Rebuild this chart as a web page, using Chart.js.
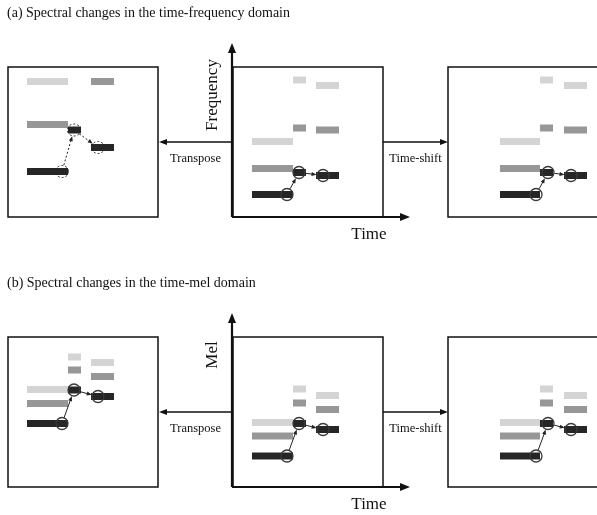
<!DOCTYPE html>
<html>
<head>
<meta charset="utf-8">
<script src="https://cdn.jsdelivr.net/npm/chart.js@4/dist/chart.umd.min.js"></script>
<style>
    html, body { margin: 0; padding: 0; background: #fff; }
    #wrap { width: 597px; height: 515px; position: relative; }
</style>
</head>
<body>
<div id="wrap"><canvas id="spectralChart"></canvas></div>
<script>
// note segments in panel-local time units (panel is 150 x 150 units)
const segStart = [19, 60, 83];
const segEnd = [60, 73, 106];
const segStartShifted = [52, 92, 116];
const segEndShifted = [92, 105, 139];

// centre of each harmonic per segment: [fundamental, 2nd, 3rd]
const freqOriginal = [[22.5, 48.5, 75.5], [44.5, 89, 137], [41.5, 87, 131.5]];
const freqTransposed = [[45.5, 92.5, 135.5], [87], [69.5, 135.5]];
const melOriginal = [[31, 51, 64.5], [63.5, 84, 98], [57.5, 77.5, 91.5]];
const melTransposed = [[63.5, 83.5, 97.5], [97, 117, 130], [90.5, 110.5, 124.5]];

// circled onsets / offsets on the fundamental
const markTime = [54, 66, 90];
const markTimeShifted = [88, 100, 123];

const titles = ['(a) Spectral changes in the time-frequency domain', '(b) Spectral changes in the time-mel domain'];
const yAxisLabels = ['Frequency', 'Mel'];
const xAxisLabel = 'Time';
const opLabels = ['Transpose', 'Time-shift'];

// layout
const W = 597, H = 515, panelSize = 150;
const colLeft = [8, 233, 448];
const rowBottom = [217, 487];
const harmonicColor = ['#262626', '#979797', '#d4d4d4'];
const serif = '"Liberation Serif", "DejaVu Serif", serif';

const panels = [
    { row: 0, col: 0, start: segStart, end: segEnd, freqs: freqTransposed, marks: markTime, dashed: true },
    { row: 0, col: 1, start: segStart, end: segEnd, freqs: freqOriginal, marks: markTime },
    { row: 0, col: 2, start: segStartShifted, end: segEndShifted, freqs: freqOriginal, marks: markTimeShifted },
    { row: 1, col: 0, start: segStart, end: segEnd, freqs: melTransposed, marks: markTime },
    { row: 1, col: 1, start: segStart, end: segEnd, freqs: melOriginal, marks: markTime },
    { row: 1, col: 2, start: segStartShifted, end: segEndShifted, freqs: melOriginal, marks: markTimeShifted },
];

const gx = (p, t) => colLeft[p.col] + t,
    gy = (p, f) => rowBottom[p.row] - f;

const datasets = [];

panels.forEach(p => {
    p.freqs.forEach((harmonics, s) => {
        harmonics.forEach((f, h) => {
            datasets.push({
                data: [{ x: gx(p, p.start[s]), y: gy(p, f) }, { x: gx(p, p.end[s]), y: gy(p, f) }],
                showLine: true,
                borderColor: harmonicColor[h],
                borderWidth: 7,
                borderCapStyle: 'butt',
                pointRadius: 0,
                order: 2
            });
        });
    });
    if (!p.dashed) {
        datasets.push({
            data: p.marks.map((t, i) => ({ x: gx(p, t), y: gy(p, p.freqs[i][0]) })),
            showLine: false,
            pointStyle: 'circle',
            pointRadius: 6,
            borderWidth: 1.3,
            borderColor: '#3a3a3a',
            backgroundColor: 'rgba(0,0,0,0)',
            order: 1
        });
    }
});

const arrow = (ctx, x0, y0, x1, y1, len, wid) => {
    const a = Math.atan2(y1 - y0, x1 - x0);
    ctx.beginPath();
    ctx.moveTo(x0, y0);
    ctx.lineTo(x1 - Math.cos(a) * len * 0.8, y1 - Math.sin(a) * len * 0.8);
    ctx.stroke();
    ctx.save();
    ctx.setLineDash([]);
    ctx.beginPath();
    ctx.moveTo(x1, y1);
    ctx.lineTo(x1 - Math.cos(a) * len - Math.sin(a) * wid / 2, y1 - Math.sin(a) * len + Math.cos(a) * wid / 2);
    ctx.lineTo(x1 - Math.cos(a) * len + Math.sin(a) * wid / 2, y1 - Math.sin(a) * len - Math.cos(a) * wid / 2);
    ctx.closePath();
    ctx.fill();
    ctx.restore();
};

const diagramPlugin = {
    id: 'diagram',
    afterDatasetsDraw(chart) {
        const ctx = chart.ctx,
            X = v => chart.scales.x.getPixelForValue(v),
            Y = v => chart.scales.y.getPixelForValue(v);
        ctx.save();
        ctx.strokeStyle = '#111';
        ctx.fillStyle = '#111';

        // panel frames
        ctx.lineWidth = 1.5;
        panels.forEach(p => {
            ctx.strokeRect(X(gx(p, 0)), Y(gy(p, panelSize)), X(gx(p, panelSize)) - X(gx(p, 0)), Y(gy(p, 0)) - Y(gy(p, panelSize)));
        });

        rowBottom.forEach((b, r) => {
            const mid = panels.find(p => p.row === r && p.col === 1);
            const left = panels.find(p => p.row === r && p.col === 0);
            const right = panels.find(p => p.row === r && p.col === 2);

            // axes of the middle panel
            ctx.lineWidth = 2.2;
            arrow(ctx, X(gx(mid, -1)), Y(gy(mid, 0)), X(gx(mid, -1)), Y(gy(mid, panelSize + 24)), 10, 8);
            arrow(ctx, X(gx(mid, -1)), Y(gy(mid, 0)), X(gx(mid, panelSize + 27)), Y(gy(mid, 0)), 10, 8);

            // transpose / time-shift arrows
            ctx.lineWidth = 1.3;
            const ay = Y(gy(mid, 75));
            arrow(ctx, X(gx(mid, 0)), ay, X(gx(left, panelSize + 1)), ay, 8, 6);
            arrow(ctx, X(gx(mid, panelSize)), ay, X(gx(right, 0)), ay, 8, 6);

            ctx.font = '12.5px ' + serif;
            ctx.textAlign = 'center';
            ctx.textBaseline = 'middle';
            ctx.fillText(opLabels[0], (X(gx(mid, 0)) + X(gx(left, panelSize))) / 2, ay + 17);
            ctx.fillText(opLabels[1], (X(gx(mid, panelSize)) + X(gx(right, 0))) / 2, ay + 17);

            // axis labels
            ctx.font = '17px ' + serif;
            ctx.fillText(xAxisLabel, X(gx(mid, 136)), Y(gy(mid, -18)));
            ctx.save();
            ctx.translate(X(gx(mid, -20)), Y(gy(mid, r === 0 ? 122 : 132)));
            ctx.rotate(-Math.PI / 2);
            ctx.fillText(yAxisLabels[r], 0, 0);
            ctx.restore();

            // titles
            ctx.font = '14px ' + serif;
            ctx.textAlign = 'left';
            ctx.textBaseline = 'alphabetic';
            ctx.fillText(titles[r], 7, Y(gy(mid, 200)));
        });

        // arrows linking the circled points
        panels.forEach(p => {
            const pts = p.marks.map((t, i) => [X(gx(p, t)), Y(gy(p, p.freqs[i][0]))]);
            ctx.lineWidth = 1;
            ctx.strokeStyle = '#222';
            ctx.fillStyle = '#222';
            if (p.dashed) {
                ctx.setLineDash([2, 2]);
                pts.forEach(([x, y]) => {
                    ctx.beginPath();
                    ctx.ellipse(x, y, 6.5, 6, 0, 0, Math.PI * 2);
                    ctx.stroke();
                });
            }
            for (let i = 0; i < pts.length - 1; i++) {
                const [x0, y0] = pts[i], [x1, y1] = pts[i + 1];
                const d = Math.hypot(x1 - x0, y1 - y0), r0 = 6.5 / d;
                arrow(ctx, x0 + (x1 - x0) * r0, y0 + (y1 - y0) * r0, x1 - (x1 - x0) * r0, y1 - (y1 - y0) * r0, 5, 4);
            }
            ctx.setLineDash([]);
        });
        ctx.restore();
    }
};

new Chart(document.getElementById('spectralChart'), {
    type: 'scatter',
    data: { datasets },
    options: {
        responsive: true,
        maintainAspectRatio: false,
        animation: false,
        events: [],
        layout: { padding: 0, autoPadding: false },
        plugins: { legend: { display: false }, tooltip: { enabled: false } },
        scales: {
            x: { type: 'linear', min: 0, max: W, display: false },
            y: { type: 'linear', min: 0, max: H, reverse: true, display: false }
        }
    },
    plugins: [diagramPlugin]
});
</script>
</body>
</html>
